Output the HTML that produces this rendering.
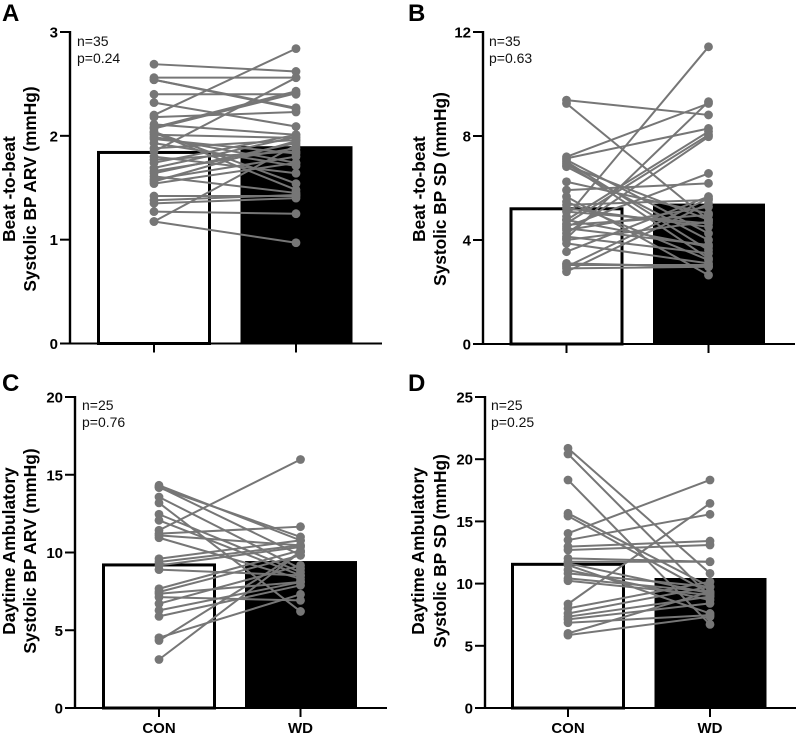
<!DOCTYPE html>
<html lang="en">
<head>
<meta charset="utf-8">
<title>Systolic BP variability: CON vs WD</title>
<style>
html,body{margin:0;padding:0;background:#fff;}
svg{display:block;}
text{font-family:"Liberation Sans",sans-serif;fill:#000;}
.tick{font-size:15px;font-weight:bold;}
.title{font-size:17.3px;font-weight:bold;text-anchor:middle;}
.letter{font-size:24px;font-weight:bold;}
.note{font-size:14px;fill:#111;}
</style>
</head>
<body>
<svg id="figure" xmlns="http://www.w3.org/2000/svg" width="800" height="740" viewBox="0 0 800 740">
  <rect x="0" y="0" width="800" height="740" fill="#fff"/>

  <text class="letter" x="2" y="21">A</text>
  <text class="letter" x="408" y="21">B</text>
  <text class="letter" x="2" y="391">C</text>
  <text class="letter" x="408" y="391">D</text>

  <text class="title" transform="translate(15,189) rotate(-90)">Beat -to-beat</text>
  <text class="title" transform="translate(36,189) rotate(-90)">Systolic BP ARV (mmHg)</text>
  <text class="title" transform="translate(425,189) rotate(-90)">Beat -to-beat</text>
  <text class="title" transform="translate(446,189) rotate(-90)">Systolic BP SD (mmHg)</text>
  <text class="title" transform="translate(15,551) rotate(-90)">Daytime Ambulatory</text>
  <text class="title" transform="translate(36,551) rotate(-90)">Systolic BP ARV (mmHg)</text>
  <text class="title" transform="translate(424,551) rotate(-90)">Daytime Ambulatory</text>
  <text class="title" transform="translate(446,551) rotate(-90)">Systolic BP SD (mmHg)</text>

  <text class="note" x="77" y="46">n=35</text>
  <text class="note" x="77" y="63">p=0.24</text>
  <text class="note" x="489" y="46">n=35</text>
  <text class="note" x="489" y="63">p=0.63</text>
  <text class="note" x="82" y="410">n=25</text>
  <text class="note" x="82" y="427">p=0.76</text>
  <text class="note" x="491" y="410">n=25</text>
  <text class="note" x="491" y="427">p=0.25</text>
</svg>

<script>
const categories = ["CON", "WD"];

const ticksA = [0, 1, 2, 3];
const meansA = [1.84, 1.90];
const conA = [2.69,2.56,2.54,2.54,2.40,2.32,2.20,2.18,2.08,2.11,2.07,2.04,2.03,2.01,1.99,1.97,1.93,1.88,1.85,1.80,1.77,1.74,1.69,1.66,1.64,1.61,1.58,1.56,1.54,1.42,1.38,1.35,1.27,1.175,1.175];
const wdA  = [2.62,2.56,2.26,2.27,2.40,2.09,2.84,2.23,2.43,2.01,2.41,1.54,1.48,1.98,1.74,1.83,1.71,1.96,2.56,1.64,1.85,2.01,1.99,1.88,1.93,1.45,1.80,1.95,1.74,1.42,1.43,1.40,1.25,0.97,1.91];

const ticksB = [0, 4, 8, 12];
const meansB = [5.2, 5.4];
const conB = [9.38,9.25,7.20,7.14,7.08,7.01,6.95,6.88,6.82,6.24,5.92,4.90,5.47,5.35,5.22,4.77,4.64,4.51,4.45,4.38,4.25,4.13,4.06,3.87,3.55,3.10,3.04,2.97,2.91,2.78,5.67,5.09,4.77,4.58,4.00];
const wdB  = [8.81,4.77,9.25,8.29,4.25,3.61,3.29,4.77,4.00,5.02,6.18,11.43,3.23,5.54,4.51,8.17,8.04,6.56,3.81,5.28,7.97,3.49,9.32,3.10,5.67,2.97,3.04,5.60,2.97,5.41,2.65,4.64,3.74,4.96,4.70];

const ticksC = [0, 5, 10, 15, 20];
const meansC = [9.2, 9.45];
const conC = [14.32,14.17,14.22,13.57,13.19,12.46,12.07,11.43,11.21,11.10,10.95,9.60,9.39,9.17,8.90,7.67,7.46,7.35,7.13,6.71,6.28,5.89,4.52,4.34,3.12];
const wdC  = [10.78,11.00,9.82,8.96,6.21,8.74,8.53,15.98,11.66,10.46,8.31,10.78,10.46,10.35,8.53,10.14,9.82,8.10,6.92,9.17,8.10,7.89,7.31,10.03,10.03];

const ticksD = [0, 5, 10, 15, 20, 25];
const meansD = [11.55, 10.45];
const conD = [20.88,20.42,18.33,15.65,15.43,14.04,13.50,12.97,12.70,12.03,11.76,11.63,11.49,11.09,10.82,10.42,10.23,8.36,8.01,7.60,7.34,7.12,6.85,6.00,5.86];
const wdD  = [10.82,8.95,6.72,9.75,9.21,18.33,15.57,13.42,13.10,11.76,11.76,9.21,7.60,8.68,9.75,9.35,9.08,16.45,10.15,9.75,8.95,8.41,7.47,9.35,7.34];

const NS = "http://www.w3.org/2000/svg";
const svg = document.getElementById("figure");
const AXIS = "#000";
const PAIR = "#767676";

function add(parent, tag, attrs) {
  const el = document.createElementNS(NS, tag);
  for (const k in attrs) el.setAttribute(k, attrs[k]);
  parent.appendChild(el);
  return el;
}

function drawPanel(id, p, ticks, means, con, wd) {
  const maxTick = ticks[ticks.length - 1];
  const yScale = v => p.y0 - (v / maxTick) * (p.y0 - p.yTop);
  const xScale = i => p.xCat[i];

  const g = add(svg, "g", {});
  
  

  // bars
  const barCon = add(g, "rect", {
    x: xScale(0) - p.barHalf, y: yScale(means[0]),
    width: p.barHalf * 2, height: p.y0 - yScale(means[0]),
    fill: "#fff", stroke: "#000", "stroke-width": 3
  });
  
  

  const barWd = add(g, "rect", {
    x: xScale(1) - p.barHalf, y: yScale(means[1]),
    width: p.barHalf * 2 + 1, height: p.y0 - yScale(means[1]),
    fill: "#000", stroke: "none"
  });
  
  

  // paired lines and points
  con.forEach((v, i) => {
    const line = add(g, "line", {
      x1: xScale(0), y1: yScale(v), x2: xScale(1), y2: yScale(wd[i]),
      stroke: PAIR, "stroke-width": 2
    });
    
    
  });
  con.forEach((v, i) => {
    const a = add(g, "circle", { cx: xScale(0), cy: yScale(v), r: 4.4, fill: PAIR });
    
    
    const b = add(g, "circle", { cx: xScale(1), cy: yScale(wd[i]), r: 4.4, fill: PAIR });
    
    
  });

  // y axis
  const yAxis = add(g, "line", { x1: p.xAxis, y1: p.yTop - 1, x2: p.xAxis, y2: p.y0 + 1, stroke: AXIS, "stroke-width": 2.4 });
  
  
  ticks.forEach(t => {
    const y = yScale(t);
    const tk = add(g, "line", { x1: p.xAxis - 10, y1: y, x2: p.xAxis, y2: y, stroke: AXIS, "stroke-width": 2 });
    
    
    const lb = add(g, "text", { class: "tick", x: p.xAxis - 12, y: y + 5.5, "text-anchor": "end" });
    
    
    lb.textContent = t;
  });

  // x axis
  const xAxis = add(g, "line", { x1: p.xAxis - 10, y1: p.y0, x2: p.xEnd, y2: p.y0, stroke: AXIS, "stroke-width": 2 });
  
  
  categories.forEach((c, i) => {
    const tk = add(g, "line", { x1: xScale(i), y1: p.y0, x2: xScale(i), y2: p.y0 + 9, stroke: AXIS, "stroke-width": 2 });
    
    
    if (p.showLabels) {
      const lb = add(g, "text", { class: "tick", x: xScale(i), y: p.y0 + 25, "text-anchor": "middle" });
      
      
      lb.textContent = c;
    }
  });
}

drawPanel("a", { xAxis: 70, xEnd: 382, y0: 343.5, yTop: 32, xCat: [154, 296], barHalf: 55.5, showLabels: false }, ticksA, meansA, conA, wdA);
drawPanel("b", { xAxis: 483, xEnd: 795, y0: 344, yTop: 32, xCat: [566.5, 708.5], barHalf: 55.5, showLabels: false }, ticksB, meansB, conB, wdB);
drawPanel("c", { xAxis: 75, xEnd: 387, y0: 708, yTop: 397, xCat: [159, 300.5], barHalf: 55.5, showLabels: true }, ticksC, meansC, conC, wdC);
drawPanel("d", { xAxis: 485, xEnd: 796, y0: 708, yTop: 397, xCat: [568, 710], barHalf: 55.5, showLabels: true }, ticksD, meansD, conD, wdD);
</script>
</body>
</html>
